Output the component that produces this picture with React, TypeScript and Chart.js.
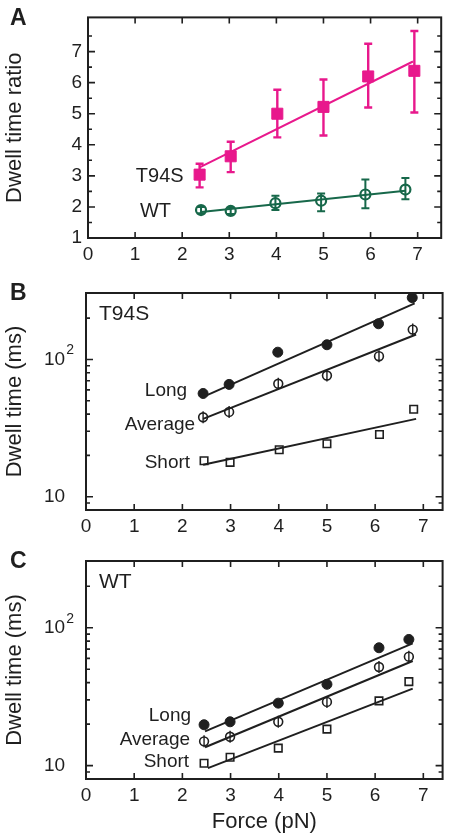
import React, { useEffect, useRef } from "react";
import { Chart, registerables } from "chart.js";

Chart.register(...registerables);

const FONT = "'Liberation Sans', Arial, Helvetica, sans-serif";
const INK = "#1f1f1f";
const PINK = "#e8188c";
const GREEN = "#17684a";
const CLEAR = "rgba(0,0,0,0)";

// ---------- shared axis ticks ----------
const forceTicks = [0, 1, 2, 3, 4, 5, 6, 7];
const ratioTicks = [1, 2, 3, 4, 5, 6, 7];
const ratioMinorTicks = [1.5, 2.5, 3.5, 4.5, 5.5, 6.5, 7.5];
const logMajorTicks = [10, 100];
const logMinorTicks = [8, 9, 20, 30, 40, 50, 60, 70, 80, 90, 200, 300];

// ---------- Panel A : dwell time ratio ----------
const forceA_T94S = [2.37, 3.03, 4.02, 5.0, 5.95, 6.93];
const ratioA_T94S = [3.04, 3.63, 5.0, 5.22, 6.2, 6.38];
const ratioA_T94S_low = [2.63, 3.12, 4.24, 4.3, 5.2, 5.04];
const ratioA_T94S_high = [3.39, 4.1, 5.77, 6.1, 7.25, 7.66];
const fitA_T94S_x = [2.37, 6.9];
const fitA_T94S_y = [3.27, 6.68];

const forceA_WT = [2.4, 3.03, 3.98, 4.95, 5.89, 6.74];
const ratioA_WT = [1.9, 1.87, 2.12, 2.2, 2.4, 2.56];
const ratioA_WT_low = [1.8, 1.77, 1.9, 1.86, 1.96, 2.25];
const ratioA_WT_high = [2.0, 1.97, 2.36, 2.43, 2.88, 2.93];
const fitA_WT_x = [2.4, 6.74];
const fitA_WT_y = [1.84, 2.52];

// ---------- Panel B : T94S dwell times (ms) ----------
const forceB_long = [2.43, 2.97, 3.98, 5.0, 6.07, 6.77];
const longB = [56.5, 65.8, 113, 128, 182, 282];
const forceB_avg = [2.43, 2.97, 3.99, 5.0, 6.08, 6.78];
const avgB = [37.9, 41.5, 66.5, 76.4, 105.6, 165];
const forceB_short = [2.45, 2.99, 4.01, 5.0, 6.09, 6.8];
const shortB = [18.3, 17.8, 22.0, 24.3, 28.4, 43.4];
const fitB_long_x = [2.43, 6.82];
const fitB_long_y = [53.4, 256];
const fitB_avg_x = [2.43, 6.85];
const fitB_avg_y = [36.9, 152];
const fitB_short_x = [2.43, 6.85];
const fitB_short_y = [17.1, 36.9];

// ---------- Panel C : WT dwell times (ms) ----------
const forceC = [2.45, 2.99, 3.99, 5.0, 6.08, 6.7];
const longC = [19.8, 20.8, 28.4, 38.9, 71.6, 82.3];
const avgC = [15.0, 16.2, 20.8, 29.0, 51.9, 61.7];
const shortC = [10.4, 11.5, 13.4, 18.4, 29.5, 40.7];
const fitC_long_x = [2.47, 6.78];
const fitC_long_y = [17.7, 77.1];
const fitC_avg_x = [2.47, 6.78];
const fitC_avg_y = [13.6, 57.4];
const fitC_short_x = [2.53, 6.78];
const fitC_short_y = [9.6, 36.2];

// ---------- helpers ----------
const toPts = (xs: number[], ys: number[]) => xs.map((x, i) => ({ x, y: ys[i] }));

const markers = (xs: number[], ys: number[], style: any) => ({
  data: toPts(xs, ys),
  showLine: false,
  order: 1,
  ...style,
});

const fitLine = (xs: number[], ys: number[], color: string) => ({
  data: toPts(xs, ys),
  showLine: true,
  fill: false,
  pointRadius: 0,
  borderColor: color,
  borderWidth: 2,
  order: 2,
});

const pinkSquare = {
  pointStyle: "rect",
  pointRadius: 7.8,
  pointBackgroundColor: PINK,
  pointBorderColor: PINK,
  pointBorderWidth: 1,
};
const greenCircle = {
  pointStyle: "circle",
  pointRadius: 5,
  pointBackgroundColor: CLEAR,
  pointBorderColor: GREEN,
  pointBorderWidth: 2.2,
};
const filledCircle = {
  pointStyle: "circle",
  pointRadius: 5,
  pointBackgroundColor: INK,
  pointBorderColor: INK,
  pointBorderWidth: 1,
};
const openCircle = {
  pointStyle: "circle",
  pointRadius: 4.4,
  pointBackgroundColor: CLEAR,
  pointBorderColor: INK,
  pointBorderWidth: 1.6,
};
const vertStroke = {
  pointStyle: "line",
  pointRadius: 6,
  pointRotation: 90,
  pointBorderColor: INK,
  pointBorderWidth: 1.4,
};
const openSquare = {
  pointStyle: "rect",
  pointRadius: 5.3,
  pointBackgroundColor: CLEAR,
  pointBorderColor: INK,
  pointBorderWidth: 1.6,
};

interface Note {
  text: string;
  x: number;
  y: number;
  dx: number;
  dy: number;
  size: number;
}
interface Deco {
  xMajor: number[];
  yMajor: number[];
  yMinor: number[];
  errorBars: { x: number[]; low: number[]; high: number[]; color: string; cap: number; width: number }[];
  notes: Note[];
  corner?: string;
  letter: string;
  logLabels: boolean;
}

function decoPlugin(d: Deco) {
  return {
    id: "deco",
    beforeDatasetsDraw(chart: any) {
      const { ctx, scales } = chart;
      const xs = scales.x;
      const ys = scales.y;
      ctx.save();
      d.errorBars.forEach((e) => {
        ctx.strokeStyle = e.color;
        ctx.lineWidth = e.width;
        e.x.forEach((xv, i) => {
          const px = xs.getPixelForValue(xv);
          const pt = ys.getPixelForValue(e.high[i]);
          const pb = ys.getPixelForValue(e.low[i]);
          ctx.beginPath();
          ctx.moveTo(px, pt);
          ctx.lineTo(px, pb);
          ctx.moveTo(px - e.cap, pt);
          ctx.lineTo(px + e.cap, pt);
          ctx.moveTo(px - e.cap, pb);
          ctx.lineTo(px + e.cap, pb);
          ctx.stroke();
        });
      });
      ctx.restore();
    },
    afterDraw(chart: any) {
      const { ctx, chartArea: a, scales } = chart;
      const xs = scales.x;
      const ys = scales.y;
      ctx.save();
      // frame
      ctx.strokeStyle = INK;
      ctx.lineWidth = 2;
      ctx.strokeRect(a.left, a.top, a.right - a.left, a.bottom - a.top);
      // inward ticks
      ctx.lineWidth = 1.6;
      ctx.beginPath();
      d.xMajor.forEach((v) => {
        const px = xs.getPixelForValue(v);
        if (px < a.left + 1 || px > a.right - 1) return;
        ctx.moveTo(px, a.bottom);
        ctx.lineTo(px, a.bottom - 6);
        ctx.moveTo(px, a.top);
        ctx.lineTo(px, a.top + 6);
      });
      const yt = (v: number, len: number) => {
        const py = ys.getPixelForValue(v);
        if (py < a.top + 1 || py > a.bottom - 1) return;
        ctx.moveTo(a.left, py);
        ctx.lineTo(a.left + len, py);
        ctx.moveTo(a.right, py);
        ctx.lineTo(a.right - len, py);
      };
      d.yMajor.forEach((v) => yt(v, 7));
      d.yMinor.forEach((v) => yt(v, 4));
      ctx.stroke();

      ctx.fillStyle = INK;
      ctx.textBaseline = "middle";
      // log tick labels (10, 10^2)
      if (d.logLabels) {
        d.yMajor.forEach((v) => {
          const py = ys.getPixelForValue(v);
          const lx = a.left - 42;
          ctx.font = `19px ${FONT}`;
          ctx.textAlign = "left";
          ctx.fillText("10", lx, py);
          const exp = Math.round(Math.log10(v));
          if (exp > 1) {
            const w = ctx.measureText("10").width;
            ctx.font = `14px ${FONT}`;
            ctx.fillText(String(exp), lx + w + 1, py - 9);
          }
        });
      }
      // series notes
      ctx.textAlign = "right";
      d.notes.forEach((n) => {
        ctx.font = `${n.size}px ${FONT}`;
        ctx.fillText(n.text, xs.getPixelForValue(n.x) - n.dx, ys.getPixelForValue(n.y) + n.dy);
      });
      // corner label
      if (d.corner) {
        ctx.textAlign = "left";
        ctx.font = `21px ${FONT}`;
        ctx.fillText(d.corner, a.left + 13, a.top + 21);
      }
      // panel letter
      ctx.textAlign = "left";
      ctx.font = `bold 23px ${FONT}`;
      ctx.fillText(d.letter, 10, a.top + 1);
      ctx.restore();
    },
  };
}

interface PanelSpec {
  datasets: any[];
  xMax: number;
  yType: "linear" | "logarithmic";
  yMin: number;
  yMax: number;
  yTickValues: number[];
  yLabels: boolean;
  yTitle: string;
  xTitle?: string;
  padTop: number;
  padRight: number;
  yWidth: number;
  xHeight: number;
  deco: Deco;
}

function buildConfig(p: PanelSpec): any {
  return {
    type: "scatter",
    data: { datasets: p.datasets },
    options: {
      responsive: false,
      animation: false,
      events: [],
      layout: { padding: { top: p.padTop, right: p.padRight, bottom: 0, left: 0 } },
      plugins: { legend: { display: false }, tooltip: { enabled: false } },
      scales: {
        x: {
          type: "linear",
          min: 0,
          max: p.xMax,
          afterBuildTicks: (s: any) => {
            s.ticks = forceTicks.map((v) => ({ value: v }));
          },
          afterFit: (s: any) => {
            s.height = p.xHeight;
          },
          grid: { display: false, drawTicks: false },
          border: { display: false },
          ticks: {
            color: INK,
            font: { family: FONT, size: 19 },
            padding: 5,
            maxRotation: 0,
            autoSkip: false,
            callback: (v: any) => String(v),
          },
          title: p.xTitle
            ? {
                display: true,
                text: p.xTitle,
                color: INK,
                font: { family: FONT, size: 22 },
                padding: { top: 0, bottom: 1 },
              }
            : { display: false },
        },
        y: {
          type: p.yType,
          min: p.yMin,
          max: p.yMax,
          afterBuildTicks: (s: any) => {
            s.ticks = p.yTickValues.map((v) => ({ value: v }));
          },
          afterFit: (s: any) => {
            s.width = p.yWidth;
          },
          grid: { display: false, drawTicks: false },
          border: { display: false },
          ticks: {
            display: p.yLabels,
            color: INK,
            font: { family: FONT, size: 19 },
            padding: 6,
            autoSkip: false,
            callback: (v: any) => String(v),
          },
          title: {
            display: true,
            text: p.yTitle,
            color: INK,
            font: { family: FONT, size: 22 },
            padding: { top: 2, bottom: 0 },
          },
        },
      },
    },
    plugins: [decoPlugin(p.deco)],
  };
}

function specA(): PanelSpec {
  return {
    datasets: [
      fitLine(fitA_T94S_x, fitA_T94S_y, PINK),
      fitLine(fitA_WT_x, fitA_WT_y, GREEN),
      markers(forceA_T94S, ratioA_T94S, pinkSquare),
      markers(forceA_WT, ratioA_WT, greenCircle),
    ],
    xMax: 7.5,
    yType: "linear",
    yMin: 1,
    yMax: 8.1,
    yTickValues: ratioTicks,
    yLabels: true,
    yTitle: "Dwell time ratio",
    padTop: 16,
    padRight: 3,
    yWidth: 88,
    xHeight: 32,
    deco: {
      xMajor: forceTicks,
      yMajor: ratioTicks,
      yMinor: ratioMinorTicks,
      errorBars: [
        { x: forceA_T94S, low: ratioA_T94S_low, high: ratioA_T94S_high, color: PINK, cap: 4, width: 2.4 },
        { x: forceA_WT, low: ratioA_WT_low, high: ratioA_WT_high, color: GREEN, cap: 4, width: 2 },
      ],
      notes: [
        { text: "T94S", x: forceA_T94S[0], y: ratioA_T94S[0], dx: 16, dy: 2, size: 20 },
        { text: "WT", x: forceA_WT[0], y: ratioA_WT[0], dx: 30, dy: 1, size: 20 },
      ],
      letter: "A",
      logLabels: false,
    },
  };
}

function specB(): PanelSpec {
  return {
    datasets: [
      fitLine(fitB_long_x, fitB_long_y, INK),
      fitLine(fitB_avg_x, fitB_avg_y, INK),
      fitLine(fitB_short_x, fitB_short_y, INK),
      markers(forceB_long, longB, filledCircle),
      markers(forceB_avg, avgB, openCircle),
      markers(forceB_avg, avgB, vertStroke),
      markers(forceB_short, shortB, openSquare),
    ],
    xMax: 7.4,
    yType: "logarithmic",
    yMin: 8,
    yMax: 305,
    yTickValues: logMajorTicks,
    yLabels: false,
    yTitle: "Dwell time (ms)",
    padTop: 23,
    padRight: 2.5,
    yWidth: 86,
    xHeight: 38,
    deco: {
      xMajor: forceTicks,
      yMajor: logMajorTicks,
      yMinor: logMinorTicks,
      errorBars: [],
      notes: [
        { text: "Long", x: forceB_long[0], y: longB[0], dx: 16, dy: -3, size: 19 },
        { text: "Average", x: forceB_avg[0], y: avgB[0], dx: 8, dy: 7, size: 19 },
        { text: "Short", x: forceB_short[0], y: shortB[0], dx: 14, dy: 2, size: 19 },
      ],
      corner: "T94S",
      letter: "B",
      logLabels: true,
    },
  };
}

function specC(): PanelSpec {
  return {
    datasets: [
      fitLine(fitC_long_x, fitC_long_y, INK),
      fitLine(fitC_avg_x, fitC_avg_y, INK),
      fitLine(fitC_short_x, fitC_short_y, INK),
      markers(forceC, longC, filledCircle),
      markers(forceC, avgC, openCircle),
      markers(forceC, avgC, vertStroke),
      markers(forceC, shortC, openSquare),
    ],
    xMax: 7.4,
    yType: "logarithmic",
    yMin: 8,
    yMax: 305,
    yTickValues: logMajorTicks,
    yLabels: false,
    yTitle: "Dwell time (ms)",
    xTitle: "Force (pN)",
    padTop: 13,
    padRight: 2.5,
    yWidth: 86,
    xHeight: 57,
    deco: {
      xMajor: forceTicks,
      yMajor: logMajorTicks,
      yMinor: logMinorTicks,
      errorBars: [],
      notes: [
        { text: "Long", x: forceC[0], y: longC[0], dx: 13, dy: -9, size: 19 },
        { text: "Average", x: forceC[0], y: avgC[0], dx: 14, dy: -2, size: 19 },
        { text: "Short", x: forceC[0], y: shortC[0], dx: 15, dy: -2, size: 19 },
      ],
      corner: "WT",
      letter: "C",
      logLabels: true,
    },
  };
}

function PanelChart({ top, height, spec }: { top: number; height: number; spec: () => PanelSpec }) {
  const ref = useRef<HTMLCanvasElement>(null);
  useEffect(() => {
    if (!ref.current) return;
    const chart = new Chart(ref.current, buildConfig(spec()));
    return () => chart.destroy();
  }, []);
  return (
    <canvas
      ref={ref}
      width={450}
      height={height}
      style={{ position: "absolute", left: 0, top, width: 450, height, display: "block" }}
    />
  );
}

export default function App() {
  return (
    <div
      style={{
        position: "fixed",
        left: 0,
        top: 0,
        width: 450,
        height: 836,
        background: "#ffffff",
        overflow: "hidden",
      }}
    >
      <PanelChart top={0} height={270} spec={specA} />
      <PanelChart top={270} height={278} spec={specB} />
      <PanelChart top={548} height={288} spec={specC} />
    </div>
  );
}
